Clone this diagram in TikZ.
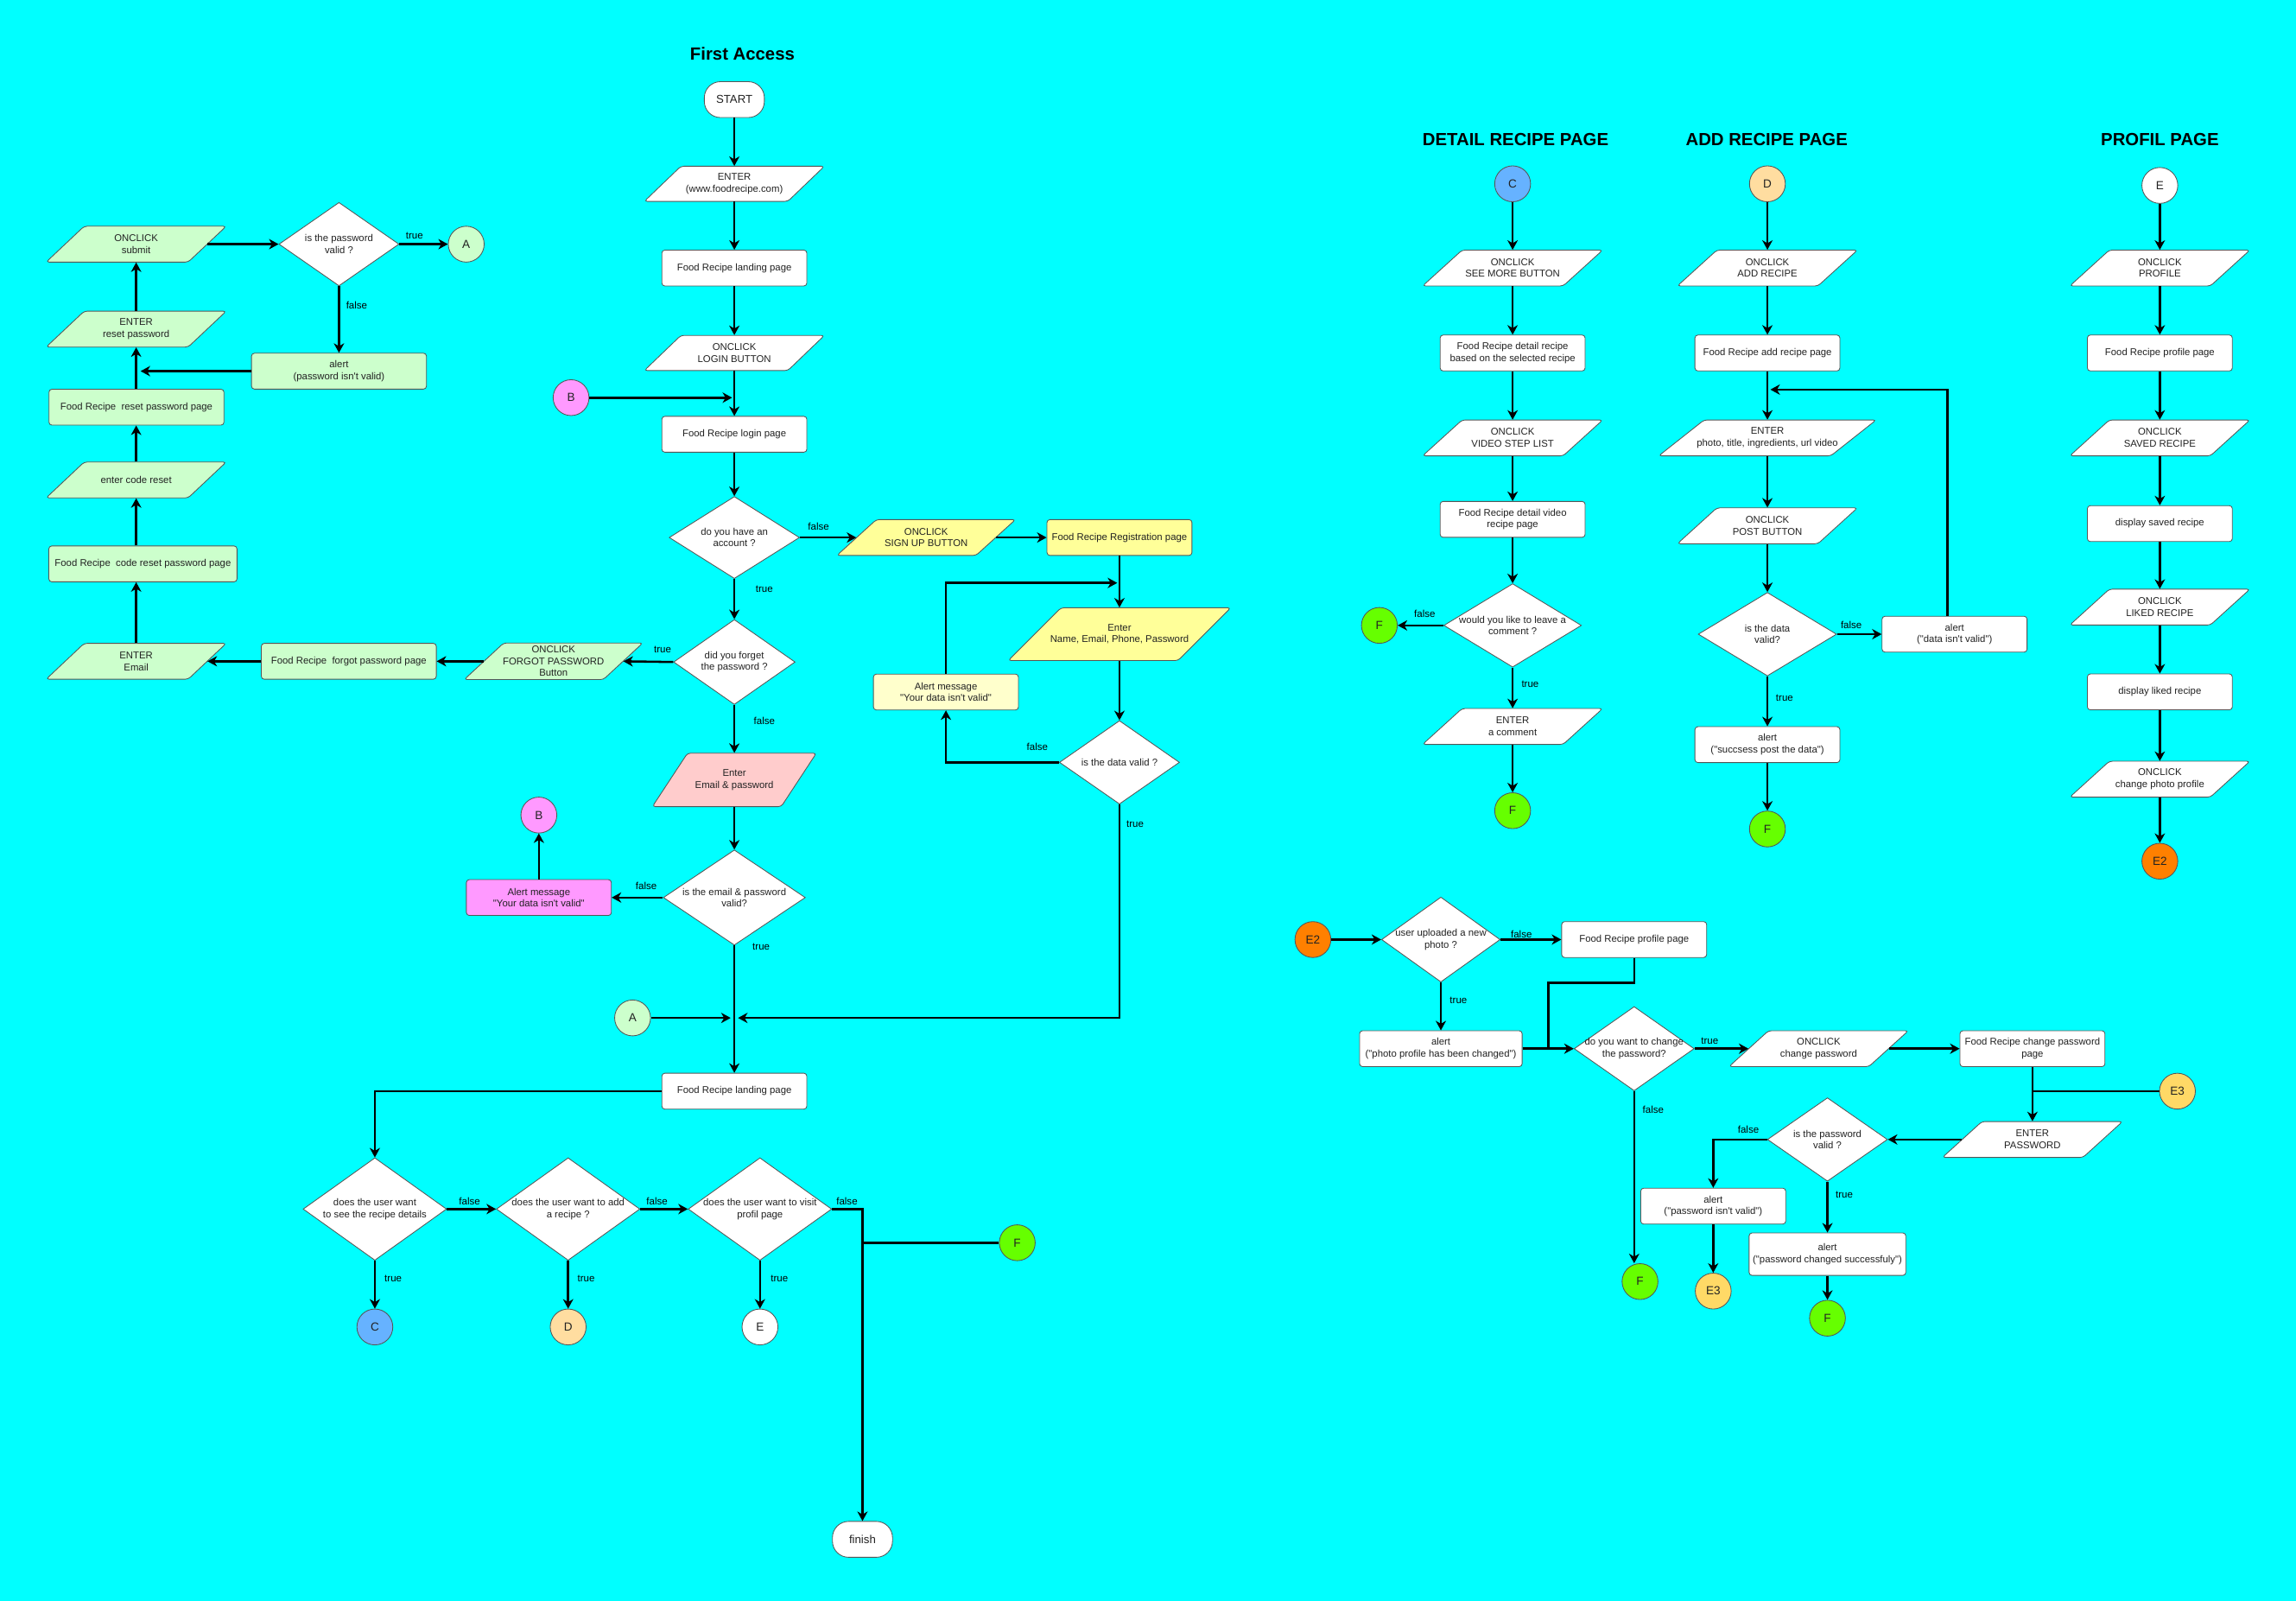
\documentclass[tikz,border=0pt]{standalone}
\usepackage{fontspec}
\newfontfamily\lsans{Liberation Sans}
\usetikzlibrary{shapes.geometric,arrows.meta}
\definecolor{bgc}{HTML}{00FFFF}
\definecolor{cG}{HTML}{CCFFCC}
\definecolor{cY}{HTML}{FFFF99}
\definecolor{cLY}{HTML}{FFFFCC}
\definecolor{cP}{HTML}{FFCCCC}
\definecolor{cM}{HTML}{FF99FF}
\definecolor{cC}{HTML}{66B2FF}
\definecolor{cD}{HTML}{FFDDA0}
\definecolor{cF}{HTML}{66FF00}
\definecolor{cO}{HTML}{FF8000}
\definecolor{cE}{HTML}{FFD966}
\definecolor{bord}{HTML}{555555}
\definecolor{txt}{HTML}{222222}
\newcommand\ftx{\lsans\fontsize{6.7}{8}\selectfont}
\newcommand\PG[8]{%
 \path[pgshape,fill=#7] ({#2-#4/2},{#3+#5/2}) -- ({#2+#4/2-#6},{#3+#5/2}) -- ({#2+#4/2},{#3-#5/2}) -- ({#2-#4/2+#6},{#3-#5/2}) -- cycle;
 \node[pgtext,minimum width={#4-#6},minimum height={#5}] (#1) at (#2,#3) {#8};}
\begin{document}
\begin{tikzpicture}[x=1pt,y=-1pt,
 box/.style={draw=bord,line width=0.5pt,rounded corners=2pt,fill=white,minimum width=99pt,minimum height=24.5pt,inner sep=1pt,align=center,font=\ftx,text=txt},
 pgshape/.style={draw=bord,line width=0.5pt,rounded corners=2pt},
 pgtext/.style={inner sep=0pt,align=center,font=\ftx,text=txt},
 dec/.style={diamond,draw=bord,line width=0.5pt,fill=white,inner sep=0pt},
 dtx/.style={align=center,font=\ftx,text=txt,inner sep=0pt},
 circ/.style={ellipse,draw=bord,line width=0.5pt,minimum width=24.5pt,minimum height=24.5pt,inner sep=0pt,font=\lsans\fontsize{8}{9}\selectfont,text=txt},
 term/.style={rectangle,rounded corners=11pt,draw=bord,line width=0.5pt,fill=white,minimum width=41pt,minimum height=24.5pt,inner sep=0pt,font=\lsans\fontsize{7.8}{9}\selectfont,text=txt},
 ttl/.style={font=\lsans\bfseries\fontsize{12}{14}\selectfont,text=black},
 lbl/.style={font=\lsans\fontsize{6.8}{8}\selectfont,text=black,inner sep=0pt},
 arr/.style={line width=1.5pt,-{Stealth[length=6.5pt,width=7pt,inset=2pt]}},
 ln/.style={line width=1.5pt}]
\useasboundingbox (0,0) rectangle (1568,1093);
\fill[bgc] (0,0) rectangle (1568,1093);

% ---------- titles
\node[ttl] (tFA) at (507,37) {First Access};
\node[ttl] (tDR) at (1035,95) {DETAIL RECIPE PAGE};
\node[ttl] (tAR) at (1206.5,95) {ADD RECIPE PAGE};
\node[ttl] (tPP) at (1475,95) {PROFIL PAGE};

% ---------- first access column
\node[term] (start) at (501.5,68) {START};
\PG{enter1}{501.5}{125.5}{123}{24}{25}{white}{ENTER\\(www.foodrecipe.com)}
\node[box] (land1) at (501.5,183) {Food Recipe landing page};
\PG{login}{501.5}{241}{123}{24}{25}{white}{ONCLICK\\LOGIN BUTTON}
\node[circ,fill=cM] (B1) at (390,271.5) {B};
\coordinate (jB) at (500,271.5);
\node[box] (loginpage) at (501.5,296.5) {Food Recipe login page};
\node[dec,minimum width=89pt,minimum height=56pt,label={[dtx]center:{do you have an\\account ?}}] (dacc) at (501.5,367) {};
\PG{signup}{632.5}{367}{122}{24.5}{27}{cY}{ONCLICK\\SIGN UP BUTTON}
\node[box,fill=cY] (reg) at (764.5,367) {Food Recipe Registration page};
\PG{entername}{764.5}{433}{152}{36}{36}{cY}{Enter\\Name, Email, Phone, Password}
\node[box,fill=cLY] (alertreg) at (646,472.5) {Alert message\\"Your data isn't valid"};
\coordinate (jR) at (763,398);
\node[dec,minimum width=82pt,minimum height=57pt,label={[dtx]center:{is the data valid ?}}] (dvalid) at (764.5,520.5) {};
\coordinate (jT) at (504,695);

\node[dec,minimum width=83pt,minimum height=58pt,label={[dtx]center:{did you forget\\the password ?}}] (dforgot) at (501.5,452) {};
\PG{forgotbtn}{378}{451.5}{122}{25}{27}{cG}{ONCLICK\\FORGOT PASSWORD\\Button}
\node[box,fill=cG,minimum width=119.5pt] (forgotpage) at (238.2,451.5) {Food Recipe\ \ forgot password page};
\PG{enteremail}{93}{451.5}{123}{24.5}{26}{cG}{ENTER\\Email}
\node[box,fill=cG,minimum width=128.5pt] (codepage) at (97.6,385) {Food Recipe\ \ code reset password page};
\PG{entercode}{93}{327.7}{123}{24.5}{26}{cG}{enter code reset}
\node[box,fill=cG,minimum width=119.5pt] (resetpage) at (93.2,278) {Food Recipe\ \ reset password page};
\PG{enterreset}{93}{224.7}{123}{24.5}{26}{cG}{ENTER\\reset password}
\PG{submit}{93}{166.7}{123}{24.5}{26}{cG}{ONCLICK\\submit}
\node[dec,minimum width=82pt,minimum height=57pt,label={[dtx]center:{is the password\\valid ?}}] (dpw) at (231.5,166.7) {};
\node[circ,fill=cG] (A1) at (318.4,166.7) {A};
\node[box,fill=cG,minimum width=119.5pt] (alertpw) at (231.5,253.4) {alert\\(password isn't valid)};
\coordinate (jP) at (96,253.4);

\PG{emailpw}{501.5}{532.5}{112}{36.5}{24}{cP}{Enter\\Email \& password}
\node[dec,minimum width=97pt,minimum height=65pt,label={[dtx]center:{is the email \& password\\valid?}}] (demail) at (501.5,612.8) {};
\node[box,fill=cM] (alertlogin) at (368,612.8) {Alert message\\"Your data isn't valid"};
\node[circ,fill=cM] (B2) at (368,556.5) {B};
\node[circ,fill=cG] (A2) at (432,695) {A};
\coordinate (jA) at (499,695);
\node[box] (land2) at (501.5,745) {Food Recipe landing page};
\node[dec,minimum width=98pt,minimum height=70pt,label={[dtx]center:{does the user want\\to see the recipe details}}] (d1) at (256,825.5) {};
\node[dec,minimum width=98pt,minimum height=70pt,label={[dtx]center:{does the user want to add\\a recipe ?}}] (d2) at (388,825.5) {};
\node[dec,minimum width=98pt,minimum height=70pt,label={[dtx]center:{does the user want to visit\\profil page}}] (d3) at (519,825.5) {};
\node[circ,fill=cC] (C1) at (256,906) {C};
\node[circ,fill=cD] (D1) at (388,906) {D};
\node[circ,fill=white] (E1) at (519,906) {E};
\node[circ,fill=cF] (F1) at (694.7,848.5) {F};
\node[term] (finish) at (589,1051) {finish};

% ---------- detail recipe column
\node[circ,fill=cC] (C2) at (1033,125.5) {C};
\PG{seemore}{1033}{183}{123}{24.5}{27}{white}{ONCLICK\\SEE MORE BUTTON}
\node[box] (detail) at (1033,241) {Food Recipe detail recipe\\based on the selected recipe};
\PG{videostep}{1033}{299}{123}{24.5}{27}{white}{ONCLICK\\VIDEO STEP LIST}
\node[box] (videopage) at (1033,354.6) {Food Recipe detail video\\recipe page};
\node[dec,minimum width=94pt,minimum height=57pt,label={[dtx]center:{would you like to leave a\\comment ?}}] (dcomment) at (1033,427) {};
\node[circ,fill=cF] (F2) at (942,427) {F};
\PG{entercomment}{1033}{496}{123}{24.5}{27}{white}{ENTER\\a comment}
\node[circ,fill=cF] (F3) at (1033,553.5) {F};

% ---------- add recipe column
\node[circ,fill=cD] (D2) at (1207,125.5) {D};
\PG{addbtn}{1207}{183}{123}{24.5}{27}{white}{ONCLICK\\ADD RECIPE}
\node[box] (addpage) at (1207,241) {Food Recipe add recipe page};
\coordinate (jD1) at (1330,266);
\coordinate (jD) at (1209,266);
\PG{enterphoto}{1207}{299}{148.5}{24.5}{31}{white}{ENTER\\photo, title, ingredients, url video}
\PG{postbtn}{1207}{359}{123}{24.5}{27}{white}{ONCLICK\\POST BUTTON}
\node[dec,minimum width=94.5pt,minimum height=57pt,label={[dtx]center:{is the data\\valid?}}] (ddata) at (1207,433) {};
\node[box] (alertdata) at (1334.8,433) {alert\\("data isn't valid")};
\node[box] (alertsucc) at (1207,508.4) {alert\\("succsess post the data")};
\node[circ,fill=cF] (F4) at (1207,566) {F};

% ---------- profil column
\node[circ,fill=white] (E2c) at (1475,126.6) {E};
\PG{profbtn}{1475}{183}{123}{24.5}{27}{white}{ONCLICK\\PROFILE}
\node[box] (profpage) at (1475,241) {Food Recipe profile page};
\PG{savedbtn}{1475}{299}{123}{24.5}{27}{white}{ONCLICK\\SAVED RECIPE}
\node[box] (savedpage) at (1475,357.5) {display saved recipe};
\PG{likedbtn}{1475}{414.5}{123}{24.5}{27}{white}{ONCLICK\\LIKED RECIPE}
\node[box] (likedpage) at (1475,472.4) {display liked recipe};
\PG{photobtn}{1475}{532}{123}{24.5}{27}{white}{ONCLICK\\change photo profile}
\node[circ,fill=cO] (E2a) at (1475,588) {E2};

% ---------- E2 section
\node[circ,fill=cO] (E2b) at (896.6,641.5) {E2};
\node[dec,minimum width=81pt,minimum height=58pt,label={[dtx]center:{user uploaded a new\\photo ?}}] (dupload) at (984,641.5) {};
\node[box] (profpage2) at (1116,641.5) {Food Recipe profile page};
\node[box,minimum width=111pt] (alertphoto) at (984,716) {alert\\("photo profile has been changed")};
\coordinate (jP2) at (1057.5,716);
\node[dec,minimum width=82pt,minimum height=57.5pt,label={[dtx]center:{do you want to change\\the password?}}] (dchange) at (1116,716) {};
\PG{changebtn}{1242}{716}{122.5}{24.5}{27}{white}{ONCLICK\\change password}
\node[box] (changepage) at (1388,716) {Food Recipe change password\\page};
\node[circ,fill=cE] (E3a) at (1487,745) {E3};
\PG{enterpw}{1388}{778}{123}{24.5}{27}{white}{ENTER\\PASSWORD}
\node[dec,minimum width=82pt,minimum height=57pt,label={[dtx]center:{is the password\\valid ?}}] (dpw2) at (1248,778) {};
\node[box] (alertpw2) at (1170,823.5) {alert\\("password isn't valid")};
\node[circ,fill=cE] (E3b) at (1170,881.5) {E3};
\node[box,minimum width=107pt,minimum height=29pt] (alertok) at (1248,856.3) {alert\\("password changed successfuly")};
\node[circ,fill=cF] (F5) at (1248,900) {F};
\node[circ,fill=cF] (F6) at (1120,875) {F};

% ---------- connectors: first access
\draw[arr] (start.south) -- (enter1.north);
\draw[arr] (enter1.south) -- (land1.north);
\draw[arr] (land1.south) -- (login.north);
\draw[arr] (login.south) -- (loginpage.north);
\draw[arr] (B1.east) -- (jB);
\draw[arr] (loginpage.south) -- (dacc.north);
\draw[arr] (dacc.east) -- (signup.west);
\draw[arr] (signup.east) -- (reg.west);
\draw[arr] (reg.south) -- (entername.north);
\draw[arr] (alertreg.north) |- (jR);
\draw[arr] (entername.south) -- (dvalid.north);
\draw[arr] (dvalid.west) -| (alertreg.south);
\draw[arr] (dvalid.south) |- (jT);
\draw[arr] (dacc.south) -- (dforgot.north);
\draw[arr] (dforgot.west) -- (forgotbtn.east);
\draw[arr] (forgotbtn.west) -- (forgotpage.east);
\draw[arr] (forgotpage.west) -- (enteremail.east);
\draw[arr] (enteremail.north) -- (enteremail.north |- codepage.south);
\draw[arr] (entercode.south |- codepage.north) -- (entercode.south);
\draw[arr] (entercode.north) -- (entercode.north |- resetpage.south);
\draw[arr] (enterreset.south |- resetpage.north) -- (enterreset.south);
\draw[arr] (enterreset.north) -- (submit.south);
\draw[arr] (submit.east) -- (dpw.west);
\draw[arr] (dpw.east) -- (A1.west);
\draw[arr] (dpw.south) -- (alertpw.north);
\draw[arr] (alertpw.west) -- (jP);
\draw[arr] (dforgot.south) -- (emailpw.north);
\draw[arr] (emailpw.south) -- (demail.north);
\draw[arr] (demail.west) -- (alertlogin.east);
\draw[arr] (alertlogin.north) -- (B2.south);
\draw[arr] (demail.south) -- (land2.north);
\draw[arr] (A2.east) -- (jA);
\draw[arr] (land2.west) -| (d1.north);
\draw[arr] (d1.east) -- (d2.west);
\draw[arr] (d2.east) -- (d3.west);
\draw[arr] (d1.south) -- (C1.north);
\draw[arr] (d2.south) -- (D1.north);
\draw[arr] (d3.south) -- (E1.north);
\draw[arr] (d3.east) -| (finish.north);
\draw[ln] (F1.west) -- (F1.west -| finish.north);

% ---------- connectors: detail
\draw[arr] (C2.south) -- (seemore.north);
\draw[arr] (seemore.south) -- (detail.north);
\draw[arr] (detail.south) -- (videostep.north);
\draw[arr] (videostep.south) -- (videopage.north);
\draw[arr] (videopage.south) -- (dcomment.north);
\draw[arr] (dcomment.west) -- (F2.east);
\draw[arr] (dcomment.south) -- (entercomment.north);
\draw[arr] (entercomment.south) -- (F3.north);

% ---------- connectors: add recipe
\draw[arr] (D2.south) -- (addbtn.north);
\draw[arr] (addbtn.south) -- (addpage.north);
\draw[arr] (addpage.south) -- (enterphoto.north);
\draw[arr] (alertdata.north -| jD1) |- (jD);
\draw[arr] (enterphoto.south) -- (postbtn.north);
\draw[arr] (postbtn.south) -- (ddata.north);
\draw[arr] (ddata.east) -- (alertdata.west);
\draw[arr] (ddata.south) -- (alertsucc.north);
\draw[arr] (alertsucc.south) -- (F4.north);

% ---------- connectors: profil
\draw[arr] (E2c.south) -- (profbtn.north);
\draw[arr] (profbtn.south) -- (profpage.north);
\draw[arr] (profpage.south) -- (savedbtn.north);
\draw[arr] (savedbtn.south) -- (savedpage.north);
\draw[arr] (savedpage.south) -- (likedbtn.north);
\draw[arr] (likedbtn.south) -- (likedpage.north);
\draw[arr] (likedpage.south) -- (photobtn.north);
\draw[arr] (photobtn.south) -- (E2a.north);

% ---------- connectors: E2
\draw[arr] (E2b.east) -- (dupload.west);
\draw[arr] (dupload.east) -- (profpage2.west);
\draw[arr] (dupload.south) -- (alertphoto.north);
\draw[ln] (profpage2.south) -- ++(0,17) -| (jP2);
\draw[arr] (alertphoto.east) -- (dchange.west);
\draw[arr] (dchange.east) -- (changebtn.west);
\draw[arr] (changebtn.east) -- (changepage.west);
\draw[arr] (changepage.south) -- (enterpw.north);
\draw[ln] (E3a.west) -- (E3a.west -| changepage.south);
\draw[arr] (enterpw.west) -- (dpw2.east);
\draw[arr] (dpw2.west) -| (alertpw2.north);
\draw[arr] (dpw2.south) -- (alertok.north);
\draw[arr] (alertpw2.south) -- (E3b.north);
\draw[arr] (alertok.south) -- (F5.north);
\draw[arr] (dchange.south) -- (dchange.south |- F6.north);

% ---------- true / false labels
\node[lbl] (l1) at (283,161) {true};
\node[lbl] (l2) at (243.6,208.4) {false};
\node[lbl] (l3) at (559,359.3) {false};
\node[lbl] (l4) at (522,402.5) {true};
\node[lbl] (l5) at (452.5,443.8) {true};
\node[lbl] (l6) at (522,492) {false};
\node[lbl] (l7) at (708.4,509.7) {false};
\node[lbl] (l8) at (775.2,562.4) {true};
\node[lbl] (l9) at (441.3,604.7) {false};
\node[lbl] (l10) at (519.8,646.2) {true};
\node[lbl] (l11) at (320.7,820) {false};
\node[lbl] (l12) at (448.7,820) {false};
\node[lbl] (l13) at (578.4,820) {false};
\node[lbl] (l14) at (268.5,873) {true};
\node[lbl] (l15) at (400.3,873) {true};
\node[lbl] (l16) at (532.3,873) {true};
\node[lbl] (l17) at (973,419) {false};
\node[lbl] (l18) at (1045,467) {true};
\node[lbl] (l19) at (1264.3,426.8) {false};
\node[lbl] (l20) at (1218.7,476.5) {true};
\node[lbl] (l21) at (1039,637.8) {false};
\node[lbl] (l22) at (996,683) {true};
\node[lbl] (l23) at (1167.6,711) {true};
\node[lbl] (l24) at (1129,757.5) {false};
\node[lbl] (l25) at (1194,771) {false};
\node[lbl] (l26) at (1259.5,816) {true};
\end{tikzpicture}
\end{document}
